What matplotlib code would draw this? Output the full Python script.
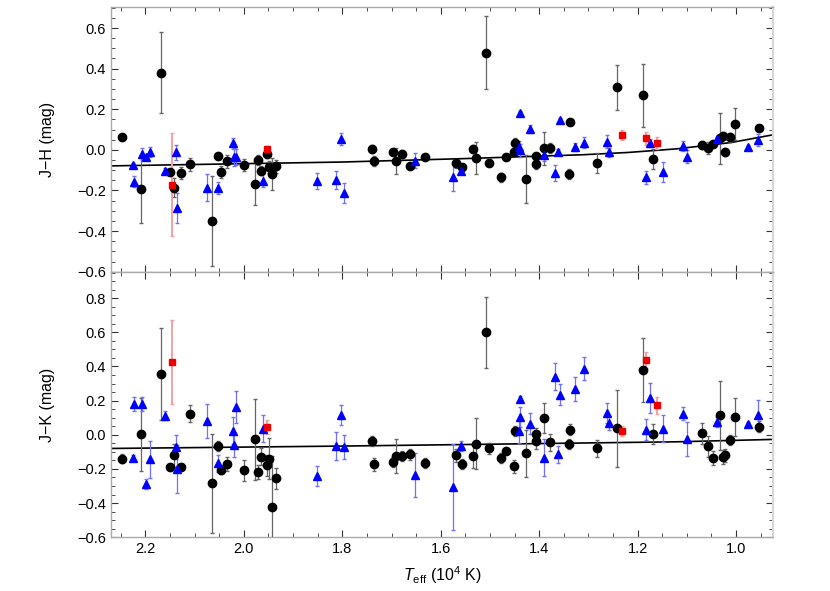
import numpy as np
import matplotlib
matplotlib.use('Agg')
import matplotlib.pyplot as plt
from matplotlib.ticker import MultipleLocator

plt.rcParams['font.family'] = ['Liberation Sans', 'DejaVu Sans']
plt.rcParams['mathtext.fontset'] = 'custom'
plt.rcParams['mathtext.rm'] = 'Liberation Sans'
plt.rcParams['mathtext.it'] = 'Liberation Sans:italic'

# Teff in 10^4 K -- black circles (same stars in both panels)
bk_T = [2.247, 2.209, 2.168, 2.151, 2.141, 2.128, 2.109, 2.065, 2.052, 2.046,
        2.035, 2.000, 1.977, 1.971, 1.966, 1.952, 1.948, 1.943, 1.935, 1.739,
        1.735, 1.697, 1.690, 1.678, 1.663, 1.631, 1.569, 1.557, 1.535, 1.529,
        1.508, 1.501, 1.478, 1.468, 1.451, 1.449, 1.427, 1.407, 1.406, 1.391,
        1.379, 1.340, 1.338, 1.282, 1.241, 1.190, 1.169, 1.070, 1.058, 1.046,
        1.033, 1.026, 1.022, 1.012, 1.003, 0.954]
bk_jh = [0.063, -0.194, 0.379, -0.110, -0.186, -0.113, -0.072, -0.351, -0.031, -0.110,
         -0.057, -0.075, -0.167, -0.048, -0.102, -0.021, -0.084, -0.120, -0.082, 0.005,
         -0.057, -0.013, -0.053, -0.020, -0.080, -0.033, -0.067, -0.085, 0.005, -0.041,
         0.479, -0.066, -0.136, -0.036, -0.011, 0.036, -0.143, -0.069, -0.030, 0.007,
         0.007, -0.118, 0.138, -0.066, 0.307, 0.268, -0.046, 0.025, 0.010, 0.030,
         0.056, 0.067, -0.010, 0.061, 0.128, 0.108]
bk_jh_err = [0.012, 0.164, 0.200, 0.015, 0.045, 0.030, 0.030, 0.220, 0.012, 0.030,
             0.030, 0.030, 0.107, 0.025, 0.020, 0.020, 0.030, 0.078, 0.030, 0.020,
             0.025, 0.012, 0.064, 0.020, 0.015, 0.010, 0.020, 0.012, 0.020, 0.080,
             0.179, 0.010, 0.020, 0.010, 0.020, 0.020, 0.117, 0.025, 0.010, 0.082,
             0.025, 0.025, 0.010, 0.050, 0.110, 0.155, 0.050, 0.020, 0.030, 0.010,
             0.125, 0.020, 0.020, 0.020, 0.078, 0.010]
bk_jk = [-0.140, 0.002, 0.357, -0.189, -0.121, -0.189, 0.124, -0.284, -0.066, -0.204,
         -0.171, -0.208, -0.027, -0.216, -0.128, -0.179, -0.140, -0.422, -0.255, -0.037,
         -0.173, -0.158, -0.125, -0.125, -0.115, -0.163, -0.121, -0.169, -0.127, -0.052,
         0.600, -0.080, -0.136, -0.096, -0.185, 0.021, -0.109, -0.035, 0.002, 0.099,
         -0.045, -0.053, 0.031, -0.080, 0.037, 0.381, 0.006, 0.008, -0.068, -0.136,
         0.113, -0.131, -0.121, -0.029, 0.105, 0.048]
bk_jk_err = [0.025, 0.216, 0.270, 0.020, 0.070, 0.020, 0.050, 0.290, 0.030, 0.025,
             0.040, 0.060, 0.237, 0.040, 0.050, 0.060, 0.120, 0.300, 0.060, 0.030,
             0.040, 0.030, 0.100, 0.030, 0.030, 0.030, 0.040, 0.030, 0.070, 0.150,
             0.207, 0.030, 0.030, 0.010, 0.040, 0.030, 0.140, 0.050, 0.040, 0.090,
             0.050, 0.030, 0.030, 0.050, 0.228, 0.187, 0.060, 0.060, 0.060, 0.040,
             0.200, 0.040, 0.040, 0.030, 0.110, 0.030]

# blue triangles
bl_T = [2.225, 2.223, 2.206, 2.198, 2.191, 2.160, 2.137, 2.136, 2.075, 2.053,
        2.022, 2.020, 2.016, 1.962, 1.852, 1.813, 1.803, 1.797, 1.652, 1.575,
        1.558, 1.440, 1.439, 1.438, 1.418, 1.390, 1.368, 1.361, 1.357, 1.327,
        1.308, 1.263, 1.259, 1.182, 1.175, 1.149, 1.108, 1.100, 1.038, 0.976,
        0.956]
bl_jh = [-0.077, -0.156, -0.021, -0.036, -0.010, -0.102, -0.011, -0.286, -0.186, -0.186,
         0.033, -0.036, -0.036, -0.151, -0.153, -0.149, 0.053, -0.213, -0.053, -0.136,
         -0.103, 0.015, -0.003, 0.179, 0.102, -0.025, -0.115, -0.011, 0.148, 0.016,
         0.036, 0.041, -0.013, -0.136, 0.033, -0.110, 0.021, -0.033, 0.053, 0.013,
         0.049]
bl_jh_err = [0.012, 0.026, 0.030, 0.012, 0.025, 0.015, 0.037, 0.074, 0.066, 0.030,
             0.027, 0.045, 0.040, 0.030, 0.040, 0.045, 0.030, 0.050, 0.035, 0.068,
             0.015, 0.030, 0.030, 0.010, 0.020, 0.030, 0.040, 0.015, 0.010, 0.020,
             0.025, 0.030, 0.020, 0.030, 0.020, 0.050, 0.025, 0.030, 0.010, 0.010,
             0.030]
bl_jk = [-0.134, 0.181, 0.181, -0.286, -0.144, 0.112, -0.070, -0.202, 0.080, -0.167,
         0.025, -0.062, 0.161, 0.035, -0.241, -0.066, 0.115, -0.072, -0.235, -0.305,
         -0.066, 0.021, 0.103, 0.210, 0.066, -0.134, 0.340, -0.115, 0.235, 0.268,
         0.388, 0.128, 0.070, 0.031, 0.216, 0.035, 0.124, -0.027, 0.074, 0.066,
         0.115]
bl_jk_err = [0.015, 0.040, 0.040, 0.030, 0.107, 0.025, 0.070, 0.140, 0.100, 0.050,
             0.080, 0.070, 0.094, 0.080, 0.060, 0.080, 0.060, 0.070, 0.130, 0.250,
             0.030, 0.070, 0.060, 0.020, 0.060, 0.110, 0.080, 0.050, 0.060, 0.070,
             0.070, 0.060, 0.040, 0.060, 0.090, 0.080, 0.040, 0.100, 0.030, 0.010,
             0.090]

# red squares
rd_T = [2.146, 1.954, 1.231, 1.183, 1.161]
rd_jh = [-0.172, 0.005, 0.075, 0.056, 0.033]
rd_jh_err = [0.254, 0.015, 0.025, 0.030, 0.030]
rd_jk = [0.425, 0.044, 0.023, 0.439, 0.173]
rd_jk_err = [0.245, 0.040, 0.030, 0.045, 0.050]

# fitted relations
fit_jh_T = [2.27, 1.80, 1.55, 1.31, 1.22, 1.12, 1.01, 0.925]
fit_jh = [-0.079, -0.060, -0.043, -0.024, -0.013, 0.005, 0.036, 0.074]
fit_jk_T = [2.27, 1.80, 1.55, 1.31, 1.12, 0.925]
fit_jk = [-0.080, -0.066, -0.057, -0.048, -0.041, -0.027]


def draw_panel(ax, bk, bk_err, bl, bl_err, rd, rd_err, fit_T, fit):
    ax.plot(fit_T, fit, color='black', lw=1.2, zorder=2)
    ax.errorbar(bk_T, bk, yerr=bk_err, fmt='o', color='black', ms=6,
                ecolor='#666666', elinewidth=0.9, capsize=1.5, zorder=3)
    ax.errorbar(bl_T, bl, yerr=bl_err, fmt='^', color='#0000ff', ms=5.5,
                ecolor='#7070ff', elinewidth=0.9, capsize=1.5, zorder=3)
    ax.errorbar(rd_T, rd, yerr=rd_err, fmt='s', color='#ee0000', ms=5,
                ecolor='#f4a0a0', elinewidth=1.4, capsize=1.5, zorder=3)
    ax.set_xlim(2.27, 0.925)
    ax.xaxis.set_major_locator(MultipleLocator(0.2))
    ax.xaxis.set_minor_locator(MultipleLocator(0.05))
    ax.yaxis.set_major_locator(MultipleLocator(0.2))
    ax.yaxis.set_minor_locator(MultipleLocator(0.05))
    ax.tick_params(which='both', direction='in', top=True, right=True,
                   color='#333333', labelsize=10.5)
    ax.tick_params(which='major', length=5, width=0.8)
    ax.tick_params(which='minor', length=3, width=0.6)
    for sp in ax.spines.values():
        sp.set_color('#aaaaaa')
        sp.set_linewidth(1.0)
    ax.spines['right'].set_color('#d8d8d8')
    ax.spines['right'].set_linewidth(1.6)


fig = plt.figure(figsize=(8.3, 5.91), dpi=100)
ax1 = fig.add_axes([0.1337, 0.5403, 0.7976, 0.4484])
ax2 = fig.add_axes([0.1337, 0.0909, 0.7976, 0.4494])

draw_panel(ax1, bk_jh, bk_jh_err, bl_jh, bl_jh_err, rd_jh, rd_jh_err, fit_jh_T, fit_jh)
draw_panel(ax2, bk_jk, bk_jk_err, bl_jk, bl_jk_err, rd_jk, rd_jk_err, fit_jk_T, fit_jk)

ax1.set_ylim(-0.6, 0.705)
ax2.set_ylim(-0.6, 0.955)
ax1.set_xticklabels([])
ax1.set_ylabel('J\u2212H (mag)', fontsize=11.5)
ax2.set_ylabel('J\u2212K (mag)', fontsize=11.5)
ax2.set_xlabel(r'$T_{\rm eff}$ (10$^4$ K)', fontsize=11.5, labelpad=6)
ax1.yaxis.set_label_coords(-0.085, 0.5)
ax2.yaxis.set_label_coords(-0.085, 0.5)

fig.savefig('out.png', dpi=100)
